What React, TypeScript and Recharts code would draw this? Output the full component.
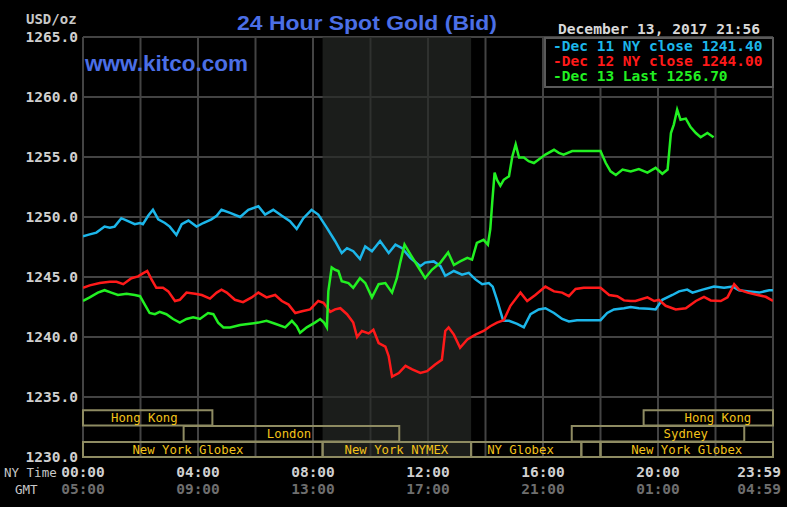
import React from 'react';
import { LineChart, Line, XAxis, YAxis, CartesianGrid, ReferenceArea, Legend } from 'recharts';

const MONO = '"DejaVu Sans Mono", "Liberation Mono", monospace';
const SANS = '"Liberation Sans", Arial, sans-serif';

const priceTicks = [1230, 1235, 1240, 1245, 1250, 1255, 1260, 1265];
const gridMinutes = [0, 120, 240, 360, 480, 600, 720, 840, 960, 1080, 1200, 1320, 1440];
const labelMinutes = [0, 240, 480, 720, 960, 1200, 1440];
const nyTimeLabels = ['00:00', '04:00', '08:00', '12:00', '16:00', '20:00', '23:59'];
const gmtLabels = ['05:00', '09:00', '13:00', '17:00', '21:00', '01:00', '04:59'];

const seriesNames = ['Dec 11 NY close', 'Dec 12 NY close', 'Dec 13 Last'];
const seriesCloses = ['1241.40', '1244.00', '1256.70'];
const seriesColors = ['#1cb6ea', '#ff1a1a', '#22f022'];

const nymexPit = [500, 810];

const sessions = [
  { name: 'Hong Kong', start: 0, end: 270, row: 1, labelAt: 128 },
  { name: 'London', start: 210, end: 660, row: 2, labelAt: 430 },
  { name: 'New York Globex', start: 0, end: 500, row: 3, labelAt: 219 },
  { name: 'New York NYMEX', start: 500, end: 810, row: 3, labelAt: 654 },
  { name: 'NY Globex', start: 810, end: 1040, row: 3, labelAt: 913 },
  { name: '', start: 1040, end: 1080, row: 3, labelAt: 1060 },
  { name: 'Sydney', start: 1020, end: 1380, row: 2, labelAt: 1258 },
  { name: 'Hong Kong', start: 1170, end: 1440, row: 1, labelAt: 1325 },
  { name: 'New York Globex', start: 1080, end: 1440, row: 3, labelAt: 1260 },
];

const dec11: [number, number][] = [[0,1248.4],[14,1248.55],[28,1248.7],[45,1249.2],[56,1249.1],[66,1249.2],[80,1249.9],[94,1249.65],[108,1249.4],[119,1249.5],[125,1249.4],[136,1250.1],[146,1250.6],[157,1249.8],[171,1249.5],[181,1249.2],[195,1248.5],[206,1249.4],[220,1249.7],[237,1249.2],[251,1249.5],[268,1249.8],[279,1250.1],[289,1250.6],[307,1250.35],[328,1250.0],[345,1250.6],[366,1250.9],[380,1250.2],[397,1250.6],[415,1250.1],[432,1249.65],[446,1249.0],[460,1249.9],[477,1250.6],[491,1250.2],[509,1249.1],[526,1248.0],[540,1247.0],[551,1247.4],[564,1247.15],[578,1246.5],[589,1247.55],[603,1247.15],[620,1248.0],[638,1247.0],[652,1247.7],[666,1247.4],[683,1246.6],[704,1245.9],[714,1246.2],[732,1246.3],[746,1245.9],[756,1245.1],[774,1245.5],[791,1245.2],[805,1245.35],[819,1244.8],[833,1244.4],[847,1244.5],[855,1244.2],[864,1243.1],[877,1241.35],[889,1241.35],[906,1241.1],[920,1240.8],[934,1241.9],[951,1242.3],[965,1242.4],[983,1242.0],[1000,1241.5],[1014,1241.3],[1031,1241.4],[1080,1241.4],[1094,1242.0],[1108,1242.3],[1129,1242.4],[1143,1242.5],[1160,1242.4],[1181,1242.35],[1195,1242.3],[1209,1243.1],[1230,1243.5],[1244,1243.8],[1261,1243.95],[1272,1243.7],[1293,1243.95],[1317,1244.2],[1338,1244.1],[1356,1244.2],[1369,1243.9],[1390,1243.8],[1411,1243.7],[1432,1243.9],[1440,1243.9]];

const dec12: [number, number][] = [[0,1244.1],[14,1244.3],[35,1244.5],[56,1244.6],[70,1244.6],[84,1244.4],[101,1244.9],[115,1245.05],[125,1245.3],[134,1245.5],[143,1244.8],[153,1244.1],[167,1244.1],[178,1243.8],[192,1243.0],[202,1243.1],[216,1243.7],[234,1243.6],[248,1243.5],[265,1243.2],[279,1243.7],[289,1243.95],[300,1243.7],[317,1243.1],[334,1242.9],[352,1243.3],[366,1243.7],[383,1243.3],[401,1243.5],[415,1243.0],[429,1242.7],[443,1242.0],[457,1242.15],[474,1242.3],[491,1243.0],[502,1242.85],[516,1242.1],[526,1242.3],[537,1242.4],[551,1241.9],[564,1241.2],[572,1240.0],[582,1240.5],[596,1240.3],[606,1240.6],[617,1239.5],[631,1239.2],[638,1238.4],[645,1236.7],[659,1237.0],[673,1237.6],[687,1237.3],[704,1237.0],[718,1237.15],[735,1237.7],[749,1238.1],[756,1240.5],[763,1240.8],[774,1240.2],[787,1239.1],[802,1239.8],[819,1240.2],[836,1240.5],[850,1240.9],[864,1241.2],[878,1241.4],[892,1242.6],[913,1243.7],[927,1243.0],[944,1243.5],[965,1244.2],[983,1243.8],[1000,1243.7],[1014,1243.4],[1028,1244.0],[1045,1244.1],[1080,1244.1],[1098,1243.5],[1115,1243.4],[1129,1243.05],[1143,1243.0],[1153,1243.0],[1178,1243.3],[1192,1243.0],[1202,1243.1],[1216,1242.6],[1237,1242.3],[1258,1242.4],[1279,1243.0],[1296,1243.35],[1310,1243.05],[1331,1243.0],[1345,1243.3],[1359,1244.4],[1369,1243.95],[1387,1243.7],[1408,1243.5],[1425,1243.35],[1440,1243.0]];

const dec13: [number, number][] = [[0,1243.0],[14,1243.3],[31,1243.7],[45,1243.9],[59,1243.7],[73,1243.5],[91,1243.6],[108,1243.5],[119,1243.4],[129,1242.7],[139,1242.0],[150,1241.9],[160,1242.1],[174,1241.9],[188,1241.5],[202,1241.2],[216,1241.5],[230,1241.65],[244,1241.5],[261,1242.0],[272,1241.9],[282,1241.2],[293,1240.8],[307,1240.8],[328,1241.0],[348,1241.1],[366,1241.2],[383,1241.35],[401,1241.1],[422,1240.8],[436,1241.35],[446,1240.9],[453,1240.35],[467,1240.8],[484,1241.2],[495,1241.5],[503,1241.2],[509,1240.8],[512,1243.8],[519,1245.8],[526,1245.6],[533,1245.5],[540,1244.65],[554,1244.5],[564,1244.1],[578,1244.9],[589,1244.5],[603,1243.3],[617,1244.4],[631,1244.5],[645,1243.7],[655,1244.9],[662,1246.2],[671,1247.7],[683,1246.9],[697,1246.0],[714,1244.9],[728,1245.6],[746,1246.2],[762,1247.05],[774,1246.0],[787,1246.3],[802,1246.6],[812,1246.45],[822,1247.85],[836,1248.1],[845,1247.7],[850,1249.0],[854,1251.2],[859,1253.7],[864,1253.1],[871,1252.6],[878,1253.1],[889,1253.4],[896,1255.05],[903,1256.05],[910,1254.95],[920,1254.95],[930,1254.65],[941,1254.5],[951,1254.8],[965,1255.2],[983,1255.6],[993,1255.35],[1003,1255.2],[1021,1255.5],[1038,1255.5],[1080,1255.5],[1091,1254.5],[1101,1253.8],[1112,1253.5],[1126,1253.95],[1143,1253.8],[1160,1254.0],[1178,1253.7],[1195,1254.1],[1209,1253.6],[1220,1253.95],[1227,1257.0],[1233,1257.7],[1240,1258.95],[1247,1258.1],[1258,1258.2],[1268,1257.5],[1279,1257.0],[1289,1256.65],[1303,1257.0],[1316,1256.65]];

const seriesData = [dec11, dec12, dec13].map((s) => s.map(([t, v]) => ({ t, v })));

const ROW_BANDS: Record<number, [number, number]> = {
  1: [1232.63, 1233.9],
  2: [1231.3, 1232.58],
  3: [1230.0, 1231.25],
};

const SessionLabel = (props: any) => {
  const { viewBox, s } = props;
  if (!viewBox || !s.name) return null;
  const x = viewBox.x + (viewBox.width * (s.labelAt - s.start)) / (s.end - s.start);
  const y = viewBox.y + viewBox.height / 2 + 4;
  return (
    <text x={x} y={y} textAnchor="middle" fill="#f2c21a" fontFamily={MONO} fontSize={12.3}>
      {s.name}
    </text>
  );
};

const YTick = (props: any) => {
  const { x, y, payload } = props;
  return (
    <text x={x} y={y + 5} textAnchor="end" fill="#d0d0d0" fontFamily={MONO} fontWeight="bold" fontSize={14.5}>
      {Number(payload.value).toFixed(1)}
    </text>
  );
};

const XTick = (props: any) => {
  const { x, y, payload } = props;
  const i = labelMinutes.indexOf(payload.value);
  if (i < 0) return <g />;
  const last = i === labelMinutes.length - 1;
  const tx = last ? x + 8 : x;
  const anchor = last ? 'end' : 'middle';
  return (
    <g>
      <text x={tx} y={y + 20} textAnchor={anchor} fill="#d0d0d0" fontFamily={MONO} fontWeight="bold" fontSize={14.5}>
        {nyTimeLabels[i]}
      </text>
      <text x={tx} y={y + 37} textAnchor={anchor} fill="#6e6e6e" fontFamily={MONO} fontWeight="bold" fontSize={14.5}>
        {gmtLabels[i]}
      </text>
    </g>
  );
};

const LegendBox = (props: any) => {
  const payload = props.payload || [];
  return (
    <div
      style={{
        border: '2px solid #5a5a5a',
        background: '#000',
        boxSizing: 'border-box',
        width: 230,
        padding: '0 0 2px 7px',
      }}
    >
      {payload.map((p: any, i: number) => (
        <div
          key={i}
          style={{
            color: p.color,
            fontFamily: MONO,
            fontWeight: 'bold',
            fontSize: 14.5,
            lineHeight: '15px',
            whiteSpace: 'pre',
          }}
        >
          {'-' + p.value}
        </div>
      ))}
    </div>
  );
};

export default function App() {
  return (
    <div style={{ position: 'absolute', left: 0, top: 0, width: 787, height: 507, background: '#000', overflow: 'hidden' }}>
      <LineChart width={787} height={507} margin={{ top: 37, right: 14, bottom: 0, left: 0 }}>
        <CartesianGrid stroke="#434343" strokeWidth={2} />
        <ReferenceArea x1={nymexPit[0]} x2={nymexPit[1]} fill="#262926" fillOpacity={0.7} stroke="none" ifOverflow="visible" />
        <XAxis
          dataKey="t"
          type="number"
          domain={[0, 1440]}
          ticks={gridMinutes}
          interval={0}
          height={50}
          tickSize={0}
          tickMargin={0}
          axisLine={false}
          tickLine={false}
          tick={<XTick />}
          allowDataOverflow
        />
        <YAxis
          type="number"
          domain={[1230, 1265]}
          ticks={priceTicks}
          interval={0}
          width={83}
          tickSize={0}
          tickMargin={5}
          axisLine={false}
          tickLine={false}
          tick={<YTick />}
          allowDataOverflow
        />
        {sessions.map((s, i) => (
          <ReferenceArea
            key={i}
            x1={s.start}
            x2={s.end}
            y1={ROW_BANDS[s.row][0]}
            y2={ROW_BANDS[s.row][1]}
            fill="none"
            stroke="#8e8b62"
            strokeWidth={2}
            ifOverflow="visible"
            label={<SessionLabel s={s} />}
          />
        ))}
        {seriesData.map((d, i) => (
          <Line
            key={i}
            data={d}
            dataKey="v"
            name={`${seriesNames[i]} ${seriesCloses[i]}`}
            type="linear"
            stroke={seriesColors[i]}
            strokeWidth={2.5}
            dot={false}
            activeDot={false}
            isAnimationActive={false}
          />
        ))}
        <Legend
          layout="vertical"
          align="center"
          verticalAlign="middle"
          content={<LegendBox />}
          wrapperStyle={{ left: 544, top: 37, width: 230, height: 'auto', right: 'auto', bottom: 'auto' }}
        />
      </LineChart>
      <svg width={787} height={507} style={{ position: 'absolute', left: 0, top: 0, pointerEvents: 'none' }}>
        <text x={367} y={30} textAnchor="middle" fill="#4b6fe6" fontFamily={SANS} fontWeight="bold" fontSize={19.5} textLength={260} lengthAdjust="spacingAndGlyphs">
          24 Hour Spot Gold (Bid)
        </text>
        <text x={85} y={71} fill="#4b6fe6" fontFamily={SANS} fontWeight="bold" fontSize={22.5}>
          www.kitco.com
        </text>
        <text x={26} y={24} fill="#c8c8c8" fontFamily={MONO} fontWeight="bold" fontSize={14}>
          USD/oz
        </text>
        <text x={558} y={34} fill="#d8d8d8" fontFamily={MONO} fontWeight="bold" fontSize={14.6}>
          December 13, 2017 21:56
        </text>
        <text x={4} y={477} fill="#c8c8c8" fontFamily={MONO} fontSize={12.5}>
          NY Time
        </text>
        <text x={15} y={494} fill="#c8c8c8" fontFamily={MONO} fontSize={12.5}>
          GMT
        </text>
      </svg>
    </div>
  );
}
